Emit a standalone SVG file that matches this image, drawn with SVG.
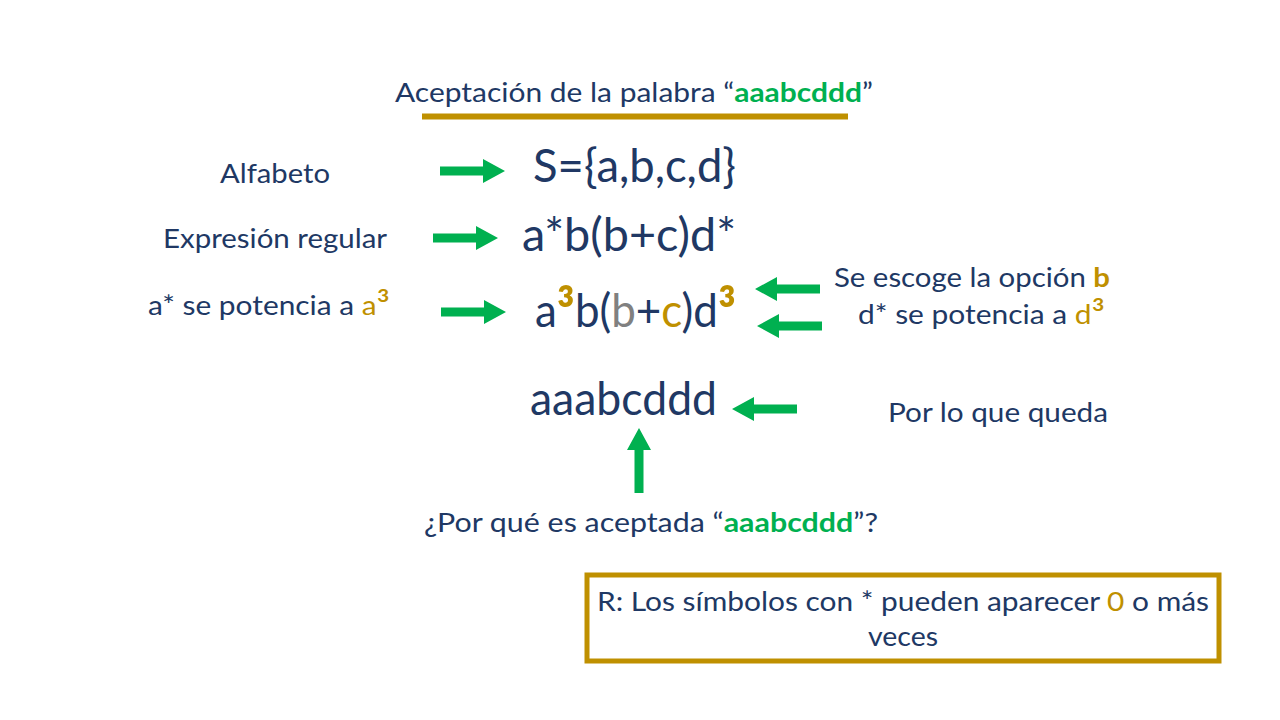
<svg xmlns="http://www.w3.org/2000/svg" width="1280" height="720" viewBox="0 0 1280 720">
<style>
text{font-family:Lato,"Open Sans","Liberation Sans",sans-serif;fill:#203864}
.s{font-size:26.7px}
.b{font-size:47px}
.g{fill:#BF9000}
.gr{fill:#00B050;font-weight:bold}
.gy{fill:#808080}
.bd{font-weight:bold}
.sup{font-size:58px;font-weight:bold;fill:#BF9000}
.sups{font-size:36px;fill:#BF9000}
.arr{fill:#00B050}
</style>
<defs>
<path id="arrow" d="M0,-4.5 H43 V-12 L65,0 L43,12 V4.5 H0 Z"/>
</defs>
<rect width="1280" height="720" fill="#ffffff"/>
<g id="title">
<text class="s" x="395" y="102" textLength="478" lengthAdjust="spacingAndGlyphs">Aceptación de la palabra “<tspan class="gr">aaabcddd</tspan>”</text>
<line x1="422" y1="116.5" x2="848" y2="116.5" stroke="#BF9000" stroke-width="6"/>
</g>
<g id="alfabeto"><text class="s" x="220" y="183" textLength="110" lengthAdjust="spacingAndGlyphs">Alfabeto</text></g>
<g id="sigma"><text class="b" x="533" y="182" textLength="203" lengthAdjust="spacingAndGlyphs">S={a,b,c,d}</text></g>
<g id="expresion"><text class="s" x="163" y="248" textLength="224" lengthAdjust="spacingAndGlyphs">Expresión regular</text></g>
<g id="regex"><text class="b" x="522" y="251" textLength="214" lengthAdjust="spacingAndGlyphs">a*b(b+c)d*</text></g>
<g id="apotencia"><text class="s" x="148" y="315" textLength="242" lengthAdjust="spacingAndGlyphs">a* se potencia a <tspan class="g">a</tspan><tspan class="sups" dy="4">³</tspan></text></g>
<g id="regex3"><text class="b" x="535" y="327" textLength="201" lengthAdjust="spacingAndGlyphs">a<tspan class="sup" dy="6">³</tspan><tspan dy="-6">b(</tspan><tspan class="gy">b</tspan>+<tspan class="g">c</tspan>)d<tspan class="sup" dy="6">³</tspan></text></g>
<g id="opcion"><text class="s" x="834" y="287" textLength="276" lengthAdjust="spacingAndGlyphs">Se escoge la opción <tspan class="g bd">b</tspan></text></g>
<g id="dpotencia"><text class="s" x="858" y="324" textLength="247" lengthAdjust="spacingAndGlyphs">d* se potencia a <tspan class="g">d</tspan><tspan class="sups" dy="4">³</tspan></text></g>
<g id="word"><text class="b" x="530" y="415" textLength="187" lengthAdjust="spacingAndGlyphs">aaabcddd</text></g>
<g id="queda"><text class="s" x="888" y="422" textLength="220" lengthAdjust="spacingAndGlyphs">Por lo que queda</text></g>
<g id="pregunta"><text class="s" x="424" y="532" textLength="454" lengthAdjust="spacingAndGlyphs">¿Por qué es aceptada “<tspan class="gr">aaabcddd</tspan>”?</text></g>
<g id="respuesta">
<rect x="587" y="575" width="632" height="86" fill="#ffffff" stroke="#BF9000" stroke-width="5"/>
<text class="s" x="597" y="611" textLength="612" lengthAdjust="spacingAndGlyphs">R: Los símbolos con * pueden aparecer <tspan class="g">0</tspan> o más</text>
<text class="s" x="868" y="646" textLength="70" lengthAdjust="spacingAndGlyphs">veces</text>
</g>
<g id="connectors" class="arr">
<use href="#arrow" transform="translate(440,171)"/>
<use href="#arrow" transform="translate(433,238)"/>
<use href="#arrow" transform="translate(441,312)"/>
<use href="#arrow" transform="translate(820,289) rotate(180)"/>
<use href="#arrow" transform="translate(822,326) rotate(180)"/>
<use href="#arrow" transform="translate(797,409) rotate(180)"/>
<use href="#arrow" transform="translate(639,493) rotate(-90)"/>
</g>
</svg>
